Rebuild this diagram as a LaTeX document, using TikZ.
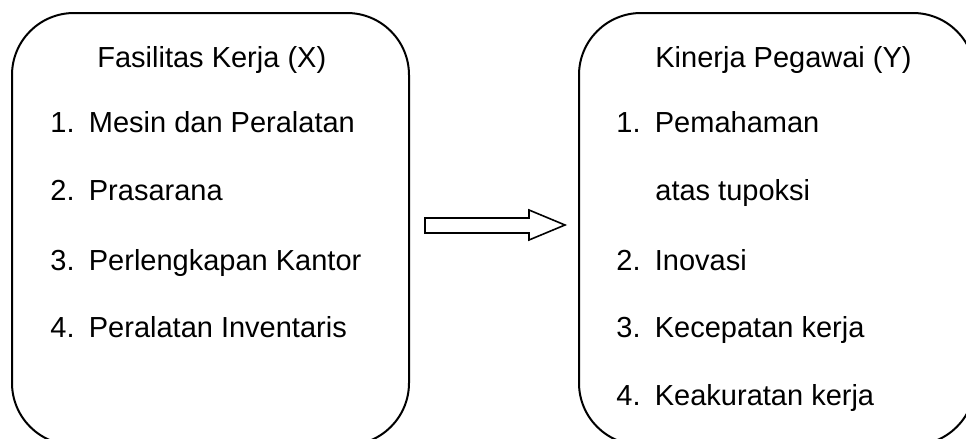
\documentclass[tikz,border=0pt]{standalone}
\usepackage{fontspec}
\setmainfont{Liberation Sans}

\tikzset{
    panel/.style={draw, line width=1pt, rounded corners=31pt, inner sep=0pt},
    label/.style={anchor=base west, inner sep=0pt, font=\fontsize{14.5}{17}\selectfont},
}
\newcommand{\num}[1]{\makebox[19.25pt][l]{#1}}

\begin{document}
\begin{tikzpicture}[x=0.5pt, y=-0.5pt]

    % Fix the page to the size of the picture and cut what runs past it
    \useasboundingbox (0,0) rectangle (966,439);
    \clip (0,0) rectangle (966,439);

    % Left box: the independent variable
    \node[panel, minimum width=198.5pt, minimum height=216pt] (fasilitas) at (210.5,229) {};

    % Right box: the dependent variable
    \node[panel, minimum width=198pt, minimum height=216pt] (kinerja) at (777,229) {};

    % Texts of the left box
    \node[label] (fasTitle) at (97,68) {Fasilitas Kerja (X)};
    \node[label] (fasA) at (50,133) {\num{1.}Mesin dan Peralatan};
    \node[label] (fasB) at (50,200) {\num{2.}Prasarana};
    \node[label] (fasC) at (50,270) {\num{3.}Perlengkapan Kantor};
    \node[label] (fasD) at (50,337) {\num{4.}Peralatan Inventaris};

    % Texts of the right box
    \node[label] (kinTitle) at (655,68) {Kinerja Pegawai (Y)};
    \node[label] (kinA) at (616,133) {\num{1.}Pemahaman};
    \node[label] (kinA2) at (655,200) {atas tupoksi};
    \node[label] (kinB) at (616,270) {\num{2.}Inovasi};
    \node[label] (kinC) at (616,337) {\num{3.}Kecepatan kerja};
    \node[label] (kinD) at (616,405) {\num{4.}Keakuratan kerja};

    % Hollow block arrow from X to Y
    \draw[line width=0.8pt] (425,218) -- (529,218) -- (529,210) -- (565,225)
        -- (529,240) -- (529,233) -- (425,233) -- cycle;

\end{tikzpicture}
\end{document}
